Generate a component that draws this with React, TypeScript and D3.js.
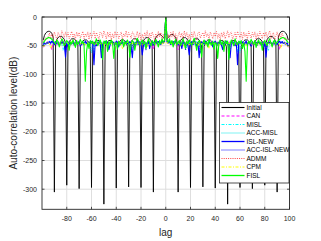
import React from "react";
import * as d3 from "d3";

// lags -99..99 ; autocorrelation magnitude is symmetric, values given for lags 1..99
const X_TICKS = [-80, -60, -40, -20, 0, 20, 40, 60, 80, 100];
const Y_TICKS = [0, -50, -100, -150, -200, -250, -300];
const ZERO_LAG_DB = 0;

const INITIAL = [
  -38, -36, -33, -31, -30, -31, -33, -36, -42, -305,
  -47, -41, -38, -36, -36, -36, -38, -41, -47, -297,
  -49, -43, -40, -38, -38, -38, -40, -43, -49, -296,
  -51, -45, -42, -40, -40, -40, -42, -45, -51, -298,
  -52, -46, -43, -41, -41, -41, -43, -46, -52, -326,
  -52, -46, -43, -41, -41, -41, -43, -46, -52, -297,
  -51, -45, -42, -40, -40, -40, -42, -45, -51, -299,
  -49, -43, -40, -38, -38, -38, -40, -43, -49, -293,
  -45, -39, -36, -34, -34, -34, -36, -39, -45, -305,
  -35, -29, -26, -25, -25, -26, -28, -32, -40,
];
const CAN = [
  -44, -47, -43, -46, -49, -44, -42, -48, -45, -57,
  -46, -43, -47, -45, -50, -44, -48, -42, -46, -45,
  -47, -44, -49, -43, -46, -52, -45, -47, -44, -48,
  -43, -46, -45, -50, -44, -47, -42, -46, -49, -45,
  -44, -48, -46, -43, -47, -45, -51, -44, -46, -48,
  -45, -43, -47, -44, -49, -46, -42, -48, -45, -47,
  -44, -50, -46, -43, -48, -45, -47, -44, -46, -49,
  -43, -47, -45, -48, -44, -46, -50, -43, -47, -45,
  -48, -44, -46, -42, -47, -45, -49, -44, -46, -48,
  -45, -57, -47, -44, -42, -45, -48, -50, -53,
];
const MISL = [
  -45, -42, -47, -44, -46, -49, -43, -45, -48, -44,
  -47, -45, -43, -48, -44, -46, -52, -45, -43, -47,
  -46, -44, -48, -45, -43, -47, -50, -44, -46, -45,
  -48, -43, -47, -45, -44, -49, -46, -43, -47, -45,
  -44, -48, -45, -47, -43, -46, -49, -45, -44, -47,
  -45, -48, -43, -46, -44, -47, -45, -61, -46, -44,
  -47, -45, -43, -48, -46, -44, -47, -45, -49, -43,
  -46, -44, -48, -45, -47, -43, -46, -49, -44, -47,
  -45, -48, -58, -46, -44, -47, -45, -43, -48, -46,
  -44, -47, -45, -42, -44, -46, -48, -47, -50,
];
const ACC_MISL = [
  -43, -46, -44, -48, -45, -43, -47, -46, -44, -49,
  -45, -47, -43, -46, -48, -44, -45, -47, -43, -50,
  -44, -46, -48, -45, -43, -47, -44, -46, -49, -45,
  -47, -44, -46, -43, -48, -45, -47, -44, -46, -48,
  -43, -45, -47, -44, -46, -49, -45, -43, -47, -46,
  -44, -48, -45, -47, -43, -46, -44, -48, -45, -62,
  -46, -44, -47, -45, -49, -43, -46, -44, -48, -45,
  -47, -44, -46, -49, -43, -47, -45, -44, -48, -46,
  -43, -47, -45, -48, -44, -46, -43, -47, -45, -49,
  -46, -44, -43, -45, -47, -44, -46, -49, -51,
];
const ISL_NEW = [
  -42, -45, -41, -48, -44, -43, -47, -42, -46, -49,
  -43, -46, -55, -42, -45, -48, -44, -50, -66, -45,
  -43, -47, -42, -46, -51, -44, -71, -48, -43, -45,
  -47, -42, -45, -49, -43, -46, -44, -52, -45, -42,
  -48, -44, -46, -43, -49, -57, -44, -47, -42, -45,
  -48, -71, -45, -43, -47, -50, -44, -83, -46, -43,
  -47, -44, -49, -45, -42, -48, -44, -46, -51, -43,
  -45, -47, -44, -49, -43, -46, -48, -44, -52, -45,
  -70, -47, -43, -46, -44, -49, -45, -47, -43, -48,
  -44, -42, -45, -43, -46, -44, -47, -45, -48,
];
const ACC_ISL_NEW = [
  -44, -43, -46, -45, -48, -42, -46, -44, -47, -45,
  -43, -48, -45, -47, -44, -58, -46, -43, -47, -45,
  -44, -49, -46, -43, -47, -45, -48, -63, -44, -46,
  -45, -43, -48, -46, -44, -47, -45, -49, -43, -46,
  -47, -44, -45, -48, -46, -43, -47, -45, -44, -49,
  -46, -60, -45, -47, -43, -46, -48, -45, -44, -47,
  -45, -43, -48, -46, -44, -47, -45, -49, -46, -44,
  -47, -45, -43, -48, -46, -44, -47, -45, -43, -48,
  -62, -45, -47, -44, -46, -48, -45, -43, -47, -46,
  -45, -43, -46, -44, -45, -47, -46, -48, -47,
];
const ADMM = [
  -38, -30, -41, -27, -35, -25, -37, -29, -40, -32,
  -26, -36, -28, -39, -24, -34, -27, -38, -30, -41,
  -27, -36, -25, -33, -39, -28, -26, -37, -31, -27,
  -36, -24, -34, -29, -39, -26, -31, -38, -27, -34,
  -25, -37, -29, -40, -27, -35, -26, -38, -31, -24,
  -36, -28, -26, -39, -33, -27, -38, -25, -31, -36,
  -27, -39, -26, -34, -29, -38, -25, -31, -37, -27,
  -34, -26, -39, -29, -36, -25, -31, -38, -27, -34,
  -26, -36, -29, -24, -38, -31, -27, -39, -33, -26,
  -36, -29, -38, -28, -34, -39, -36, -40, -42,
];
const CPM = [
  -46, -44, -48, -45, -47, -50, -44, -46, -49, -45,
  -47, -44, -46, -48, -52, -45, -47, -44, -49, -46,
  -45, -48, -44, -47, -46, -50, -45, -43, -48, -46,
  -44, -47, -49, -45, -55, -46, -44, -48, -45, -47,
  -46, -44, -49, -45, -47, -43, -48, -46, -44, -50,
  -45, -47, -46, -44, -48, -45, -49, -46, -44, -47,
  -45, -48, -44, -46, -50, -45, -47, -44, -48, -46,
  -44, -47, -45, -49, -46, -43, -48, -45, -47, -44,
  -46, -49, -45, -47, -44, -48, -46, -45, -47, -44,
  -46, -48, -55, -47, -45, -44, -47, -49, -52,
];
const FISL = [
  -40, -44, -38, -47, -41, -52, -43, -39, -48, -44,
  -41, -50, -45, -38, -46, -55, -42, -47, -40, -45,
  -49, -42, -37, -46, -58, -44, -41, -48, -70, -45,
  -40, -47, -43, -52, -39, -45, -49, -42, -56, -44,
  -47, -72, -45, -40, -48, -43, -60, -41, -46, -42,
  -74, -47, -40, -45, -50, -38, -44, -48, -42, -46,
  -41, -55, -45, -60, -112, -50, -42, -46, -39, -44,
  -48, -41, -53, -45, -40, -47, -43, -58, -44, -41,
  -46, -50, -42, -38, -45, -52, -43, -40, -47, -44,
  -41, -39, -37, -36, -36, -37, -39, -42, -45,
];

const POS_LAGS = d3.range(1, 100);
const LAGS = [...POS_LAGS.map((l) => -l).reverse(), 0, ...POS_LAGS];

function fullSeries(pos: number[]): number[] {
  return [...pos.slice().reverse(), ZERO_LAG_DB, ...pos];
}

const SERIES = [
  { name: "Initial", values: INITIAL, color: "#000000", dash: "", width: 0.9 },
  { name: "CAN", values: CAN, color: "#ff00ff", dash: "3,2", width: 0.9 },
  { name: "MISL", values: MISL, color: "#00ffff", dash: "3,1.5,1,1.5", width: 0.9 },
  { name: "ACC-MISL", values: ACC_MISL, color: "#00e8e8", dash: "1,1", width: 0.9 },
  { name: "ISL-NEW", values: ISL_NEW, color: "#0000ff", dash: "", width: 1.1 },
  { name: "ACC-ISL-NEW", values: ACC_ISL_NEW, color: "#0000ff", dash: "1,1", width: 0.9 },
  { name: "ADMM", values: ADMM, color: "#ff4040", dash: "1,1.2", width: 0.8 },
  { name: "CPM", values: CPM, color: "#ffff00", dash: "3,1.5,1,1.5", width: 1 },
  { name: "FISL", values: FISL, color: "#00ff00", dash: "", width: 1.1 },
];

const W = 321;
const H = 241;
const M = { left: 42, right: 289.5, top: 17, bottom: 209.3 };

export default function App() {
  const x = d3.scaleLinear().domain([-100, 100]).range([M.left, M.right]);
  const y = d3.scaleLinear().domain([-335, 0]).range([M.bottom, M.top]);
  const line = d3
    .line<[number, number]>()
    .x((d) => x(d[0]))
    .y((d) => y(d[1]));

  const font = "'Liberation Sans', Arial, Helvetica, sans-serif";
  const legX = 219.5;
  const legY = 102.5;
  const legW = 69.5;
  const legH = 80.5;
  const rowH = 8.5;

  return (
    <div style={{ position: "fixed", left: 0, top: 0, width: W, height: H, background: "#fff" }}>
      <svg width={W} height={H} style={{ display: "block" }}>
        <rect x={0} y={0} width={W} height={H} fill="#fff" />
        <defs>
          <clipPath id="plotclip">
            <rect x={M.left} y={M.top} width={M.right - M.left} height={M.bottom - M.top} />
          </clipPath>
        </defs>
        {/* grid */}
        {X_TICKS.map((t) => (
          <line key={"gx" + t} x1={x(t)} x2={x(t)} y1={M.top} y2={M.bottom} stroke="#dedede" strokeWidth={1} />
        ))}
        {Y_TICKS.map((t) => (
          <line key={"gy" + t} x1={M.left} x2={M.right} y1={y(t)} y2={y(t)} stroke="#dedede" strokeWidth={1} />
        ))}
        {/* series */}
        <g clipPath="url(#plotclip)" fill="none">
          {SERIES.map((s) => {
            const vals = fullSeries(s.values);
            const pts = LAGS.map((l, i) => [l, vals[i]] as [number, number]);
            return (
              <path
                key={s.name}
                d={line(pts) || ""}
                stroke={s.color}
                strokeWidth={s.width}
                strokeDasharray={s.dash || undefined}
                strokeLinejoin="round"
              />
            );
          })}
        </g>
        {/* axes box */}
        <rect
          x={M.left}
          y={M.top}
          width={M.right - M.left}
          height={M.bottom - M.top}
          fill="none"
          stroke="#262626"
          strokeWidth={0.9}
        />
        {/* ticks */}
        {X_TICKS.map((t) => (
          <g key={"tx" + t}>
            <line x1={x(t)} x2={x(t)} y1={M.bottom} y2={M.bottom - 2.5} stroke="#262626" strokeWidth={0.8} />
            <line x1={x(t)} x2={x(t)} y1={M.top} y2={M.top + 2.5} stroke="#262626" strokeWidth={0.8} />
            <text x={x(t)} y={221} textAnchor="middle" fontFamily={font} fontSize={7} fill="#262626">
              {t}
            </text>
          </g>
        ))}
        {Y_TICKS.map((t) => (
          <g key={"ty" + t}>
            <line x1={M.left} x2={M.left + 2.5} y1={y(t)} y2={y(t)} stroke="#262626" strokeWidth={0.8} />
            <line x1={M.right} x2={M.right - 2.5} y1={y(t)} y2={y(t)} stroke="#262626" strokeWidth={0.8} />
            <text x={37} y={y(t) + 2.5} textAnchor="end" fontFamily={font} fontSize={7} fill="#262626">
              {t}
            </text>
          </g>
        ))}
        {/* axis labels */}
        <text x={(M.left + M.right) / 2} y={236} textAnchor="middle" fontFamily={font} fontSize={10} fill="#262626">
          lag
        </text>
        <text
          transform={`translate(16.5, ${(M.top + M.bottom) / 2}) rotate(-90)`}
          textAnchor="middle"
          fontFamily={font}
          fontSize={10}
          fill="#262626"
        >
          Auto-correlation level(dB)
        </text>
        {/* legend */}
        <rect x={legX} y={legY} width={legW} height={legH} fill="#fff" stroke="#262626" strokeWidth={0.8} />
        {SERIES.map((s, i) => {
          const cy = legY + 5 + i * rowH;
          return (
            <g key={"lg" + s.name}>
              <line
                x1={legX + 2}
                x2={legX + 25}
                y1={cy}
                y2={cy}
                stroke={s.color}
                strokeWidth={s.width + 0.2}
                strokeDasharray={s.dash || undefined}
              />
              <text x={legX + 27} y={cy + 2.3} fontFamily={font} fontSize={6.5} fill="#000">
                {s.name}
              </text>
            </g>
          );
        })}
      </svg>
    </div>
  );
}
